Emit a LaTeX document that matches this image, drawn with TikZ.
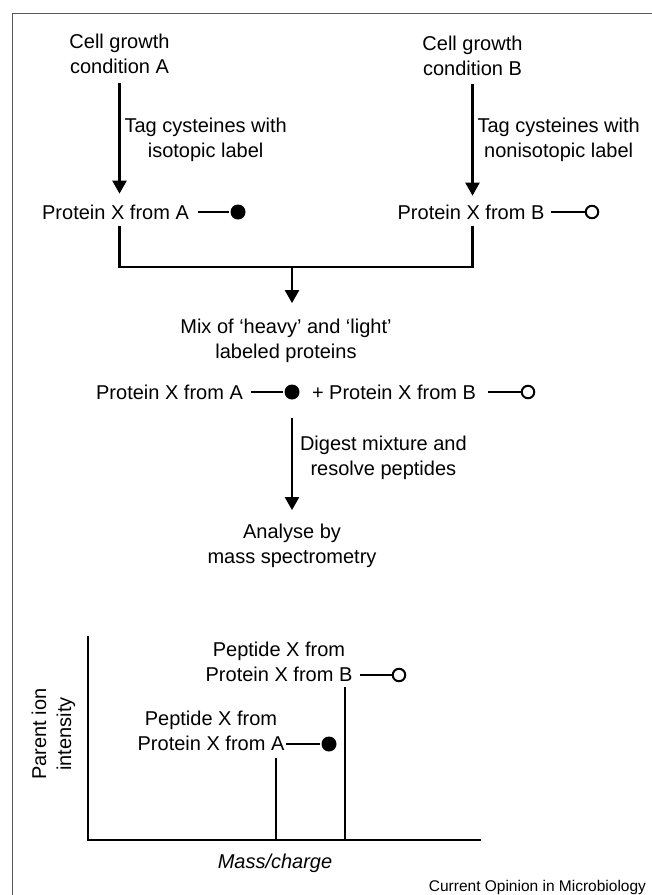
\documentclass[tikz,border=0pt]{standalone}
\usepackage{fontspec}
\setmainfont{Liberation Sans}
\usetikzlibrary{arrows.meta}
\definecolor{framegray}{HTML}{5A5A5A}
\tikzset{px/.style={x=1pt,y=-1pt,line width=2.3pt,font=\fontsize{20}{25}\selectfont},
  txt/.style={inner sep=0pt,outer sep=0pt,align=center},
  arr/.style={-{Triangle[width=14pt,length=13pt]}},
  stick/.style={line width=2pt},
  dotfull/.style={circle,fill,inner sep=0pt,minimum size=15pt},
  dotopen/.style={circle,draw,line width=2pt,fill=white,inner sep=0pt,minimum size=12.5pt}}

\begin{document}
\begin{tikzpicture}[px]
  \useasboundingbox (0,0) rectangle (652,895);
  \draw[framegray,line width=1.3pt] (12.5,895) -- (12.5,13.5) -- (652,13.5);
  % two growth conditions
  \node[txt] (cellA) at (119.5,54.3) {Cell growth\\condition A};
  \node[txt] (cellB) at (472.5,56) {Cell growth\\condition B};
  \node[txt] (protA) at (115.5,212) {Protein X from A};\node[dotfull] (dotA) at (238,212) {};
  \node[txt] (protB) at (471,212) {Protein X from B};\node[dotopen] (dotB) at (592,212) {};
  \draw[arr,shorten <=9pt,shorten >=11pt] (cellA.south) -- node[txt,right,xshift=5pt]{Tag cysteines with\\isotopic label} (cellA.south |- protA.north);
  \draw[arr,shorten <=8pt,shorten >=9pt] (cellB.south) -- node[txt,right,xshift=5pt]{Tag cysteines with\\nonisotopic label} (cellB.south |- protB.north);
  \draw[stick,shorten <=9.5pt] (dotA -| protA.east) -- (dotA);
  \draw[stick,shorten <=7pt] (dotB -| protB.east) -- (dotB);
  % mixing
  \node[txt] (mix) at (286,340.4) {Mix of `heavy' and `light'\\labeled proteins};
  \coordinate (join) at (292,267);
  \draw[shorten <=7pt,shorten >=7pt] (cellA.south |- protA.south) |- (join) -| (cellB.south |- protB.south);
  \draw[arr,shorten >=15.5pt] (join) -- (join |- mix.north);
  \node[txt] (mixA) at (169.5,392) {Protein X from A};\node[dotfull] (dotM) at (292,392) {};
  \node[txt] (mixB) at (394,392) {+ Protein X from B};\node[dotopen] (dotN) at (528,392) {};
  \draw[stick,shorten <=8.5pt] (dotM -| mixA.east) -- (dotM);
  \draw[stick,shorten <=12pt] (dotN -| mixB.east) -- (dotN);
  \node[txt] (ana) at (292,545.4) {Analyse by\\mass spectrometry};
  \draw[arr,shorten <=26pt,shorten >=13.5pt] (dotM.center) -- node[txt,right,xshift=8pt]{Digest mixture and\\resolve peptides} (dotM.center |- ana.north);
  % spectrum
  \coordinate (orig) at (88,840);
  \draw[line width=2.6pt] (88,636) -- (orig) -- (481,840);
  \draw (276,840) -- (276,758); \draw (345,840) -- (345,687);
  \node[txt] (pepA) at (211,731.3) {Peptide X from\\Protein X from A};\node[dotfull] (dotPA) at (329,744) {};
  \node[txt] (pepB) at (279,662.3) {Peptide X from\\Protein X from B};\node[dotopen] (dotPB) at (399,675) {};
  \draw[stick,shorten <=2pt] (dotPA -| pepA.east) -- (dotPA);
  \draw[stick,shorten <=8pt] (dotPB -| pepB.east) -- (dotPB);
  \node[txt,rotate=90] (ylab) at (53.4,734) {Parent ion\\intensity};
  \node[txt,font=\fontsize{20}{25}\selectfont\itshape] (xlab) at (275,863) {Mass/charge};
  \node[txt,anchor=base east,font=\fontsize{15.5}{18}\selectfont] (credit) at (646,891) {Current Opinion in Microbiology};
\end{tikzpicture}
\end{document}
